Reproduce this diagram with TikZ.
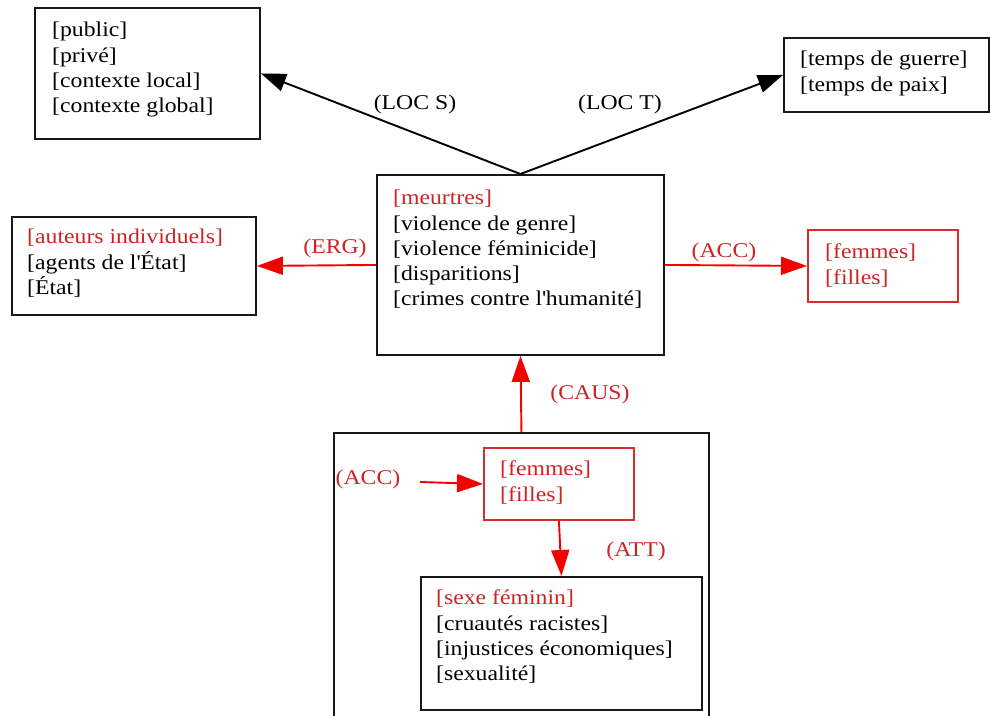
\documentclass[tikz,border=0pt]{standalone}
\usepackage{fontspec}
\setmainfont{Liberation Serif}[FakeStretch=1.13]
\usetikzlibrary{arrows.meta}
\definecolor{txtred}{RGB}{205,35,35}
\definecolor{boxred}{RGB}{215,45,45}
\definecolor{arrred}{RGB}{245,0,0}
\tikzset{
  frame/.style={draw=black!90, line width=1.9pt, rectangle, inner sep=0pt, anchor=north west},
  redframe/.style={frame, draw=boxred},
  body/.style={anchor=north west, inner sep=0pt, align=left,
    font=\fontsize{21}{25.3}\selectfont},
  lbl/.style={inner sep=0pt, font=\fontsize{21}{24}\selectfont},
  redlbl/.style={lbl, text=txtred},
  blackarrow/.style={line width=1.9pt, -{Triangle[length=25pt,width=18pt]}},
  redarrow/.style={line width=1.9pt, draw=arrred, -{Triangle[length=26pt,width=18pt,fill=arrred]}}
}
\begin{document}
\begin{tikzpicture}[x=1pt,y=-1pt]
\useasboundingbox (0,0) rectangle (990,715);

% boxes
\node[frame, minimum width=225pt, minimum height=131pt] (spat) at (34,7) {};
\node[frame, minimum width=205pt, minimum height=74pt] (temp) at (783,37) {};
\node[frame, minimum width=287pt, minimum height=180pt] (core) at (376,174) {};
\node[frame, minimum width=244pt, minimum height=98pt] (agent) at (11,216) {};
\node[redframe, minimum width=150pt, minimum height=72pt] (victim) at (807,229) {};
\node[frame, minimum width=375pt, minimum height=300pt] (cause) at (333,432) {};
\node[redframe, minimum width=150pt, minimum height=72pt] (victimin) at (483,447) {};
\node[frame, minimum width=281pt, minimum height=133pt] (attrib) at (420,576) {};

% box contents (each line braced so that \\ is not read as \\[length])
\node[body] (spattxt) at (52,22) {{[public]}\\{[privé]}\\{[contexte local]}\\{[contexte global]}};
\node[body] (temptxt) at (800,51) {{[temps de guerre]}\\{[temps de paix]}};
\node[body] (coretxt) at (393,190) {\textcolor{txtred}{[meurtres]}\\{[violence de genre]}\\{[violence féminicide]}\\{[disparitions]}\\{[crimes contre l\textquotesingle humanité]}};
\node[body] (agenttxt) at (27,229) {\textcolor{txtred}{[auteurs individuels]}\\{[agents de l\textquotesingle État]}\\{[État]}};
\node[body, text=txtred] (victimtxt) at (825,244) {{[femmes]}\\{[filles]}};
\node[body, text=txtred] (victimintxt) at (500,461) {{[femmes]}\\{[filles]}};
\node[body] (attribtxt) at (436,590) {\textcolor{txtred}{[sexe féminin]}\\{[cruautés racistes]}\\{[injustices économiques]}\\{[sexualité]}};

% relations
\draw[blackarrow] (core.north) -- (spat.east);
\draw[blackarrow] (core.north) -- (temp.west);
\draw[redarrow] (core.west) -- (agent.east);
\draw[redarrow] (core.east) -- (victim.west);
\draw[redarrow] (cause.north) -- (core.south);
\coordinate (accin) at (420,482);
\draw[redarrow] (accin) -- (victimin.west);
\draw[redarrow] (victimin.south) -- (attrib.north);

% relation labels
\node[lbl] (locs) at (415,104) {(LOC S)};
\node[lbl] (loct) at (620,104) {(LOC T)};
\node[redlbl] (erg) at (335,248) {(ERG)};
\node[redlbl] (acc) at (724,252) {(ACC)};
\node[redlbl] (caus) at (590,394) {(CAUS)};
\node[redlbl] (accl) at (368,479) {(ACC)};
\node[redlbl] (att) at (636,551) {(ATT)};
\end{tikzpicture}
\end{document}
